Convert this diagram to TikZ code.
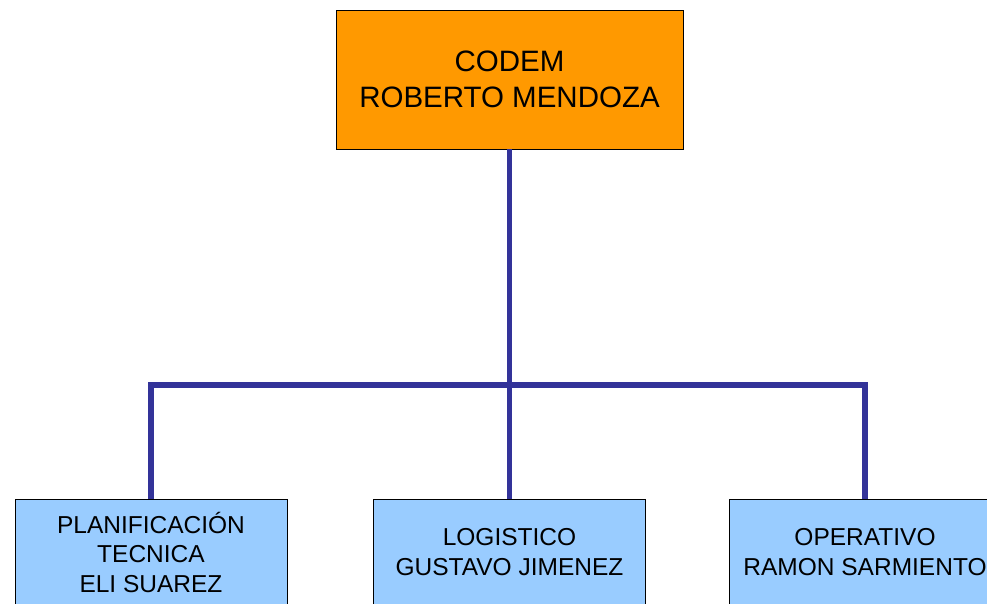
\documentclass[tikz,border=0pt]{standalone}
\usepackage{fontspec}
\setmainfont{Liberation Sans}
\definecolor{naranja}{HTML}{FF9900}
\definecolor{celeste}{HTML}{99CCFF}
\definecolor{azul}{HTML}{333399}
\begin{document}
\begin{tikzpicture}[x=1pt,y=-1pt,
    jefe/.style={draw=black,fill=naranja,minimum width=347pt,minimum height=139pt,
        align=center,font=\fontsize{29.5}{36}\selectfont},
    area/.style={draw=black,fill=celeste,minimum width=272pt,minimum height=106pt,
        align=center,font=\fontsize{24.5}{29.5}\selectfont},
    enlace/.style={draw=azul,line width=5.5pt}]
\clip (0,0) rectangle (987,604);
\fill[white] (0,0) rectangle (987,604);

\node[jefe] (codem) at (509.5,79.5) {CODEM\\ROBERTO MENDOZA};
\node[area] (plan) at (151,552) {PLANIFICACIÓN\\TECNICA\\ELI SUAREZ};
\node[area] (logis) at (509.5,552) {LOGISTICO\\GUSTAVO JIMENEZ};
\node[area] (oper) at (865,552) {OPERATIVO\\RAMON SARMIENTO};
\coordinate (bus) at (509.5,385);

\draw[enlace] (codem.south) -- (logis.north);
\draw[enlace] (plan.north) |- (bus) -| (oper.north);
\end{tikzpicture}
\end{document}
